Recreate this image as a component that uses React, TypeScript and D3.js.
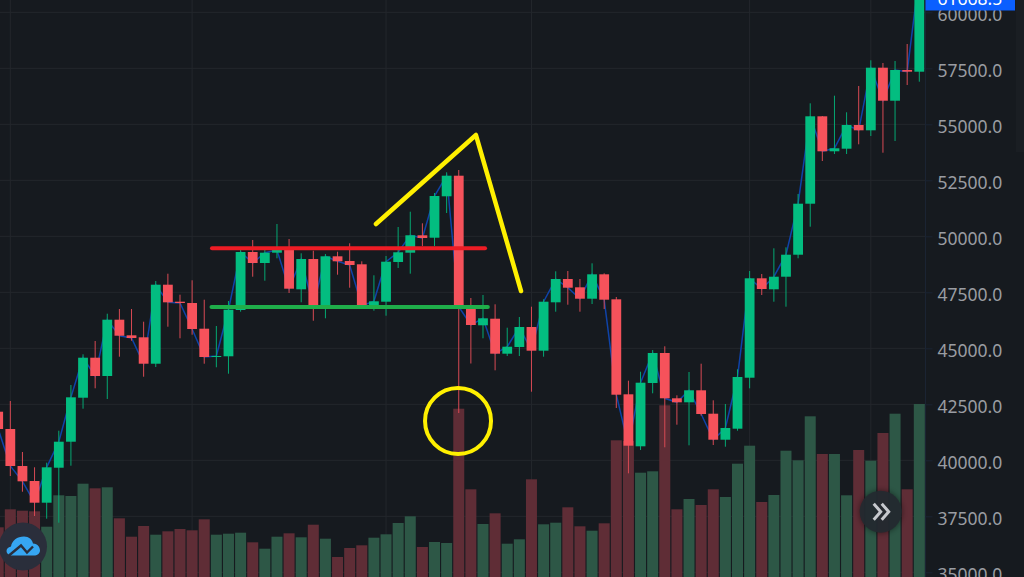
import { useEffect, useRef } from "react";
import * as d3 from "d3";

// candle values, oldest first (the first candle is cut off by the left edge)
const opens = [
  42169, 41397, 39745, 39076, 38107, 39669, 40830, 42794, 44580, 43763, 46277, 45580, 45491, 44312, 47839, 47080,
  47022, 45875, 44611, 44643, 46710, 49299, 48808, 49268, 49388, 47634, 48986, 46866, 49107, 48897, 48750, 46902,
  47080, 48853, 49268, 50045, 49937, 51786, 52705, 46857, 46027, 46321, 44759, 45058, 45951, 44893, 47053, 48094,
  47723, 47214, 48303, 47187, 42946, 40625, 43451, 44790, 42768, 42589, 43125, 42080, 40919, 41411, 43687, 48125,
  47634, 48196, 49178, 51455, 55357, 53795, 53911, 54969, 54732, 57527, 56053, 57424, 57348,
];
const closes = [
  41397, 39745, 39062, 38107, 39687, 40830, 42812, 44580, 43763, 46277, 45562, 45460, 44312, 47839, 47053, 47022,
  45861, 44611, 44656, 46723, 49299, 48808, 49268, 49388, 47661, 48986, 46888, 49107, 48884, 48719, 46902, 47098,
  48866, 49286, 50045, 49924, 51799, 52705, 46857, 46040, 46339, 44759, 45071, 45951, 44893, 47080, 48094, 47705,
  47214, 48303, 47170, 42928, 40652, 43464, 44790, 42768, 42589, 43125, 42067, 40919, 41442, 43719, 48125, 47647,
  48196, 49178, 51455, 55357, 53795, 53929, 54969, 54732, 57527, 56053, 57424, 57348, 61668,
];
const highs = [
  42692, 42647, 40370, 39687, 39893, 41321, 43361, 44732, 45326, 46544, 46754, 46754, 46187, 48004, 48330, 47393,
  48036, 47169, 45995, 47111, 49388, 49835, 49388, 50549, 49879, 49241, 49357, 49210, 49312, 49687, 48884, 48259,
  49120, 50415, 51098, 50580, 51933, 52857, 52960, 47245, 47379, 46964, 45919, 46397, 46857, 47187, 48437, 48451,
  48094, 48794, 48348, 47290, 43553, 43955, 44924, 45089, 42901, 43942, 44312, 42678, 42513, 44062, 48451, 48317,
  49464, 49509, 51888, 55937, 55370, 56277, 55536, 56710, 57857, 57736, 57826, 58585, 62000,
];
const lows = [
  40906, 39299, 38598, 37513, 37393, 37214, 39759, 42304, 43214, 42736, 44625, 45339, 43732, 44165, 45964, 45446,
  45607, 44312, 44152, 43866, 46634, 48196, 48018, 49018, 47469, 47054, 46232, 46339, 48286, 47705, 46888, 46679,
  46455, 48585, 48331, 49567, 49567, 51040, 42111, 44321, 45446, 44017, 44656, 44656, 43062, 44625, 46634, 46946,
  46634, 46977, 46754, 42335, 39419, 40460, 42991, 40580, 41589, 40669, 41991, 40683, 40607, 41321, 43214, 47379,
  47080, 46857, 49018, 50429, 53361, 53674, 53674, 54107, 54478, 53732, 54254, 56754, 56902,
];
const volumes = [
  4970, 6770, 6630, 6570, 5030, 8170, 8100, 9330, 8870, 8970, 5870, 4030, 5100, 4230, 4570, 4800,
  4670, 5770, 4230, 4330, 4430, 3470, 2830, 4030, 4370, 3970, 5230, 3830, 2000, 2900, 3170, 3930,
  4270, 5400, 6070, 3000, 3500, 3400, 16830, 8770, 5300, 6370, 3330, 3770, 9770, 5270, 5430, 6970,
  5070, 4630, 5370, 13670, 13600, 10430, 10570, 17170, 6770, 7800, 7200, 8770, 8000, 11330, 13130, 7500,
  8200, 12630, 11670, 16070, 12300, 12300, 8170, 12700, 11630, 14400, 16330, 8770, 17300,
];

const priceTicks = [60000, 57500, 55000, 52500, 50000, 47500, 45000, 42500, 40000, 37500, 35000];
const timeGridCandles = [1, 16, 32, 44, 62, 72];
const lastPrice = "61668.5";

// hand drawn marks, in candle number / price
const resistance = { from: 17.64, to: 40.17, price: 49464 };
const support = { from: 17.6, to: 40.4, price: 46844 };
const wedge: [number, number][] = [
  [31.17, 50549],
  [39.42, 54522],
  [43.14, 47558],
];
const wickCircle = { candle: 37.94, price: 41754 };

const width = 1024;
const height = 577;
const axisX = 925.5;

const bg = "#161a1f";
const gridColor = "#23272c";
const upColor = "#03bd80";
const downColor = "#f6525b";
const upVol = "#2d5746";
const downVol = "#5f2d36";

export default function App() {
  const svgRef = useRef<SVGSVGElement>(null);

  useEffect(() => {
    if (!svgRef.current) return;
    const svg = d3.select(svgRef.current);
    svg.selectAll("*").remove();

    const x = d3.scaleLinear().domain([0, 76]).range([-1.8, 919.3]);
    const y = d3.scaleLinear().domain([60000, 35000]).range([12.3, 572.3]);
    const v = d3.scaleLinear().domain([0, 20000]).range([577, 377]);
    const candles = d3.range(opens.length);
    const isUp = (i: number) => closes[i] >= opens[i];

    svg.append("rect").attr("width", width).attr("height", height).attr("fill", bg);

    // Grid
    svg
      .append("g")
      .selectAll("line")
      .data(priceTicks)
      .join("line")
      .attr("x1", 0)
      .attr("x2", axisX)
      .attr("y1", (d) => y(d))
      .attr("y2", (d) => y(d))
      .attr("stroke", gridColor);
    svg
      .append("g")
      .selectAll("line")
      .data(timeGridCandles)
      .join("line")
      .attr("x1", (d) => x(d))
      .attr("x2", (d) => x(d))
      .attr("y1", 0)
      .attr("y2", height)
      .attr("stroke", gridColor);

    // Volume
    svg
      .append("g")
      .selectAll("rect")
      .data(candles)
      .join("rect")
      .attr("x", (i) => x(i) - 5.5)
      .attr("width", 11)
      .attr("y", (i) => v(volumes[i]))
      .attr("height", (i) => v(0) - v(volumes[i]))
      .attr("fill", (i) => (isUp(i) ? upVol : downVol));

    // Close line
    const line = d3
      .line<number>()
      .x((i) => x(i))
      .y((i) => y(closes[i]));
    svg
      .append("path")
      .datum(candles)
      .attr("fill", "none")
      .attr("stroke", "#0f43a8")
      .attr("stroke-width", 1.5)
      .attr("d", line);

    // Candles
    const candle = svg.append("g").selectAll("g").data(candles).join("g");
    candle
      .append("line")
      .attr("x1", (i) => x(i))
      .attr("x2", (i) => x(i))
      .attr("y1", (i) => y(highs[i]))
      .attr("y2", (i) => y(lows[i]))
      .attr("stroke", (i) => (isUp(i) ? "#05a872" : "#d84a54"))
      .attr("stroke-width", 1);
    candle
      .append("rect")
      .attr("x", (i) => x(i) - 4.9)
      .attr("width", 9.8)
      .attr("y", (i) => y(Math.max(opens[i], closes[i])))
      .attr("height", (i) => Math.max(1, Math.abs(y(opens[i]) - y(closes[i]))))
      .attr("fill", (i) => (isUp(i) ? upColor : downColor));

    // Hand drawn marks
    const level = (m: { from: number; to: number; price: number }, color: string) =>
      svg
        .append("line")
        .attr("x1", x(m.from))
        .attr("x2", x(m.to))
        .attr("y1", y(m.price))
        .attr("y2", y(m.price))
        .attr("stroke", color)
        .attr("stroke-width", 4)
        .attr("stroke-linecap", "round");
    level(resistance, "#ee1c25");
    level(support, "#1fae4a");

    const wedgeLine = d3
      .line<[number, number]>()
      .x((d) => x(d[0]))
      .y((d) => y(d[1]));
    svg
      .append("path")
      .datum(wedge)
      .attr("fill", "none")
      .attr("stroke", "#fff000")
      .attr("stroke-width", 4.5)
      .attr("stroke-linecap", "round")
      .attr("stroke-linejoin", "round")
      .attr("d", wedgeLine);
    svg
      .append("circle")
      .attr("cx", x(wickCircle.candle))
      .attr("cy", y(wickCircle.price))
      .attr("r", 33)
      .attr("fill", "none")
      .attr("stroke", "#fff000")
      .attr("stroke-width", 4);

    // Price axis
    svg.append("rect").attr("x", axisX).attr("width", width - axisX).attr("height", height).attr("fill", bg);
    svg
      .append("line")
      .attr("x1", axisX)
      .attr("x2", axisX)
      .attr("y1", 0)
      .attr("y2", height)
      .attr("stroke", "#1b2433");
    svg
      .append("rect")
      .attr("x", 1016)
      .attr("width", 8)
      .attr("height", 152)
      .attr("fill", "#1a1e23");
    const axis = svg
      .append("g")
      .attr("transform", `translate(${axisX},2.2)`)
      .call(
        d3
          .axisRight(y)
          .tickValues(priceTicks)
          .tickFormat((d) => (d as number).toFixed(1))
          .tickSize(7)
          .tickPadding(5),
      );
    axis.select(".domain").remove();
    axis.selectAll("line").attr("stroke", "#1b2433").attr("transform", "translate(0,-2.2)");
    axis
      .selectAll("text")
      .attr("fill", "#9a9da2")
      .style("font-family", "'Noto Sans', sans-serif")
      .style("font-size", "17.5px");

    // Last price tag, pinned to the top
    svg.append("rect").attr("x", axisX).attr("y", -14).attr("width", 89.5).attr("height", 24.5).attr("fill", "#0b5fff");
    svg
      .append("text")
      .attr("x", axisX + 12)
      .attr("y", 4.5)
      .attr("fill", "#ffffff")
      .style("font-family", "'Noto Sans', sans-serif")
      .style("font-size", "17.5px")
      .text(lastPrice);

    // Logo badge
    const logo = svg.append("g").attr("transform", "translate(23,546.5)");
    logo.append("circle").attr("r", 24).attr("fill", "#2a2e3b");
    logo
      .append("path")
      .attr("d", "M-12,9 C-18,8 -18,1 -12,0 C-11,-6 -6,-10 1,-10 C6,-10 9,-7 10,-3 C15,-3 17,1 17,4 C17,7 14,9 11,9 Z")
      .attr("fill", "#36a6f2");
    logo
      .append("path")
      .attr("d", "M-14,9 L-2,-1 L4,6 L10,0")
      .attr("fill", "none")
      .attr("stroke", "#2a2e3b")
      .attr("stroke-width", 2.4);

    // Scroll to latest button
    const defs = svg.append("defs");
    defs
      .append("filter")
      .attr("id", "soft")
      .attr("x", "-50%")
      .attr("y", "-50%")
      .attr("width", "200%")
      .attr("height", "200%")
      .append("feGaussianBlur")
      .attr("stdDeviation", 2.5);
    const button = svg.append("g").attr("transform", "translate(880.7,511.7)");
    button.append("circle").attr("r", 22).attr("fill", "#000000").attr("opacity", 0.35).attr("filter", "url(#soft)");
    button.append("circle").attr("r", 21).attr("fill", "#232a30").attr("opacity", 0.93);
    button
      .append("path")
      .attr("d", "M-7,-8 L0,0 L-7,8 M1,-8 L8,0 L1,8")
      .attr("fill", "none")
      .attr("stroke", "#c6c8cd")
      .attr("stroke-width", 3);
  }, []);

  return (
    <svg
      ref={svgRef}
      width={width}
      height={height}
      style={{ position: "absolute", left: 0, top: 0, display: "block" }}
    />
  );
}
